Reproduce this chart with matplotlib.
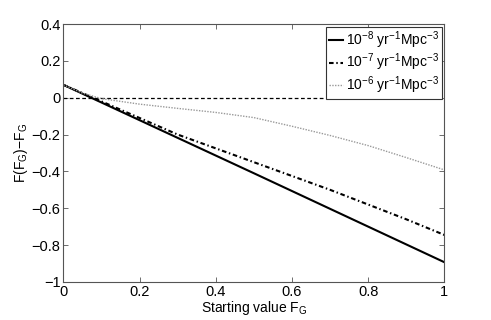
import matplotlib
matplotlib.use('Agg')
import matplotlib.pyplot as plt
import numpy as np

plt.rcParams['font.family'] = ['Liberation Sans', 'DejaVu Sans']
plt.rcParams['mathtext.default'] = 'regular'
plt.rcParams['axes.unicode_minus'] = True

# values
x_solid = [0.0, 0.5, 1.0]
y_solid = [0.07, -0.41, -0.893]

x_dashdot = [0.0, 0.1, 0.2, 0.3, 0.4, 0.5, 0.6, 0.7, 0.8, 0.9, 1.0]
y_dashdot = [0.07, -0.02, -0.11, -0.20, -0.275, -0.35, -0.425, -0.50, -0.58, -0.66, -0.745]

x_dotted = [0.0, 0.05, 0.1, 0.2, 0.3, 0.4, 0.5, 0.6, 0.7, 0.8, 0.9, 1.0]
y_dotted = [0.07, 0.025, -0.005, -0.035, -0.058, -0.08, -0.108, -0.155, -0.205, -0.26, -0.325, -0.392]

labels = [r'$10^{-8}$ yr$^{-1}$Mpc$^{-3}$',
          r'$10^{-7}$ yr$^{-1}$Mpc$^{-3}$',
          r'$10^{-6}$ yr$^{-1}$Mpc$^{-3}$']

xticks = [0, 0.2, 0.4, 0.6, 0.8, 1]
xticklabels = ['0', '0.2', '0.4', '0.6', '0.8', '1']
yticks = [-1, -0.8, -0.6, -0.4, -0.2, 0, 0.2, 0.4]
yticklabels = ['\u22121', '\u22120.8', '\u22120.6', '\u22120.4', '\u22120.2', '0', '0.2', '0.4']

fig = plt.figure(figsize=(4.91, 3.2), dpi=100)
ax = fig.add_axes([0.129, 0.119, 0.776, 0.806])

ax.axhline(0, color='black', linestyle=(0, (3, 2)), linewidth=0.9)
ax.plot(x_solid, y_solid, color='black', linewidth=1.5, label=labels[0])
ax.plot(x_dashdot, y_dashdot, color='black', linewidth=1.5,
        linestyle=(0, (2.2, 1.3, 0.7, 1.3)), label=labels[1])
ax.plot(x_dotted, y_dotted, color='#999999', linewidth=1.0,
        linestyle=(0, (1, 1)), label=labels[2])

ax.set_xlim(0, 1)
ax.set_ylim(-1, 0.4)
ax.set_xticks(xticks)
ax.set_xticklabels(xticklabels)
ax.set_yticks(yticks)
ax.set_yticklabels(yticklabels)
ax.tick_params(direction='in', top=True, right=True, length=3.5,
               width=0.6, color='#555555', labelsize=10.5, pad=2)
for s in ax.spines.values():
    s.set_color('#555555')
    s.set_linewidth(0.8)

ax.set_xlabel('Starting value F$_G$', fontsize=10, labelpad=0)
ax.set_ylabel('F(F$_G$)\u2212F$_G$', fontsize=10, labelpad=1)

leg = ax.legend(loc='upper right', fontsize=10, fancybox=False,
                framealpha=1, edgecolor='#333333', handlelength=1.0,
                handletextpad=0.2, borderpad=0.2, labelspacing=0.05,
                borderaxespad=0.2)
leg.get_frame().set_linewidth(0.8)

fig.savefig('out.png', dpi=100)
